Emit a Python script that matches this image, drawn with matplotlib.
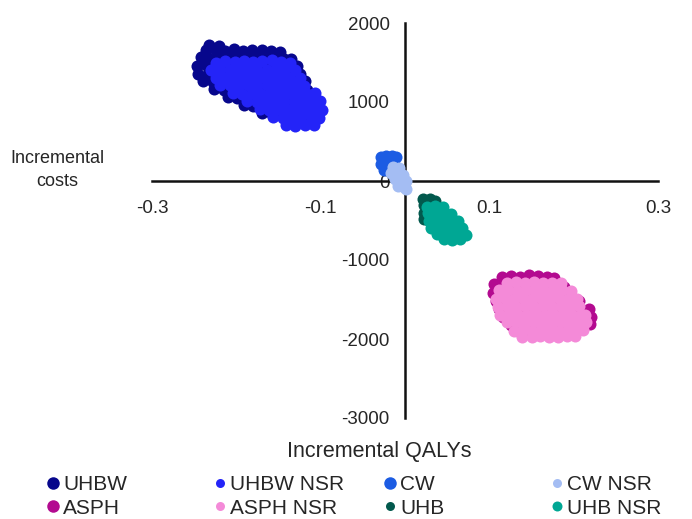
import matplotlib
matplotlib.use('Agg')
import matplotlib.pyplot as plt
from matplotlib.lines import Line2D

plt.rcParams['font.family'] = ['Liberation Sans', 'DejaVu Sans']

# ---------------- data (incremental QALYs, incremental costs) ----------------
uhbw_x = [
    -0.232, -0.220,
    -0.236, -0.225, -0.214, -0.203, -0.192, -0.181, -0.170, -0.159, -0.148,
    -0.242, -0.231, -0.220, -0.209, -0.198, -0.187, -0.176, -0.165, -0.154, -0.143, -0.135,
    -0.247, -0.236, -0.225, -0.214, -0.203, -0.192, -0.181, -0.170, -0.159, -0.148, -0.137, -0.128,
    -0.245, -0.234, -0.223, -0.212, -0.201, -0.190, -0.179, -0.168, -0.157, -0.146, -0.135, -0.124,
    -0.239, -0.228, -0.217, -0.206, -0.195, -0.184, -0.173, -0.162, -0.151, -0.140, -0.129, -0.118,
    -0.226, -0.215, -0.204, -0.193, -0.182, -0.171, -0.160, -0.149, -0.138, -0.127, -0.116,
    -0.210, -0.199, -0.188, -0.177, -0.166, -0.155, -0.144, -0.133, -0.122, -0.112,
    -0.191, -0.180, -0.169, -0.158, -0.147, -0.136, -0.125, -0.114,
    -0.169, -0.158, -0.147, -0.136, -0.125, -0.116,
]
uhbw_y = [
    1720, 1705,
    1660, 1675, 1650, 1665, 1640, 1655, 1660, 1640, 1630,
    1570, 1550, 1565, 1560, 1575, 1550, 1560, 1570, 1555, 1545, 1540,
    1460, 1470, 1450, 1465, 1455, 1460, 1450, 1470, 1455, 1460, 1445, 1450,
    1360, 1350, 1370, 1355, 1365, 1350, 1360, 1370, 1355, 1345, 1360, 1350,
    1265, 1250, 1260, 1270, 1255, 1260, 1250, 1265, 1260, 1250, 1255, 1265,
    1160, 1150, 1170, 1155, 1160, 1165, 1150, 1160, 1155, 1165, 1150,
    1060, 1050, 1065, 1055, 1060, 1070, 1055, 1060, 1050, 1065,
    960, 950, 965, 955, 960, 950, 965, 955,
    860, 850, 865, 855, 860, 850,
]

uhbw_nsr_x = [
    -0.224, -0.213, -0.202, -0.191, -0.180, -0.169, -0.158, -0.147, -0.136,
    -0.230, -0.219, -0.208, -0.197, -0.186, -0.175, -0.164, -0.153, -0.142, -0.131,
    -0.224, -0.213, -0.202, -0.191, -0.180, -0.169, -0.158, -0.147, -0.136, -0.125,
    -0.219, -0.208, -0.197, -0.186, -0.175, -0.164, -0.153, -0.142, -0.131, -0.120,
    -0.204, -0.193, -0.182, -0.171, -0.160, -0.149, -0.138, -0.127, -0.116, -0.107,
    -0.187, -0.176, -0.165, -0.154, -0.143, -0.132, -0.121, -0.110, -0.101,
    -0.172, -0.161, -0.150, -0.139, -0.128, -0.117, -0.106, -0.099,
    -0.156, -0.145, -0.134, -0.123, -0.112, -0.102,
    -0.141, -0.130, -0.119, -0.108,
]
uhbw_nsr_y = [
    1500, 1520, 1510, 1525, 1505, 1515, 1530, 1510, 1495,
    1410, 1420, 1405, 1410, 1415, 1400, 1410, 1420, 1405, 1400,
    1310, 1300, 1315, 1305, 1310, 1320, 1305, 1310, 1300, 1310,
    1210, 1215, 1205, 1210, 1200, 1215, 1210, 1205, 1215, 1205,
    1110, 1100, 1115, 1105, 1110, 1100, 1115, 1110, 1105, 1110,
    1010, 1000, 1015, 1005, 1010, 1000, 1015, 1005, 1010,
    910, 900, 915, 905, 910, 900, 915, 905,
    810, 800, 815, 805, 810, 800,
    710, 700, 715, 705,
]

cw_x = [-0.0285, -0.0220, -0.0160, -0.0107, -0.0285, -0.0200, -0.0130, -0.0250,
        -0.0170, -0.0090, -0.0119, -0.0047]
cw_y = [300, 318, 312, 300, 220, 235, 215, 140, 150, 125, 50, 25]

cw_nsr_x = [-0.0142, -0.0071, -0.0166, -0.0095, -0.0024, -0.0119, -0.0047, 0.0012,
            -0.0083, -0.0012, 0.0008]
cw_nsr_y = [171, 168, 95, 95, 70, 19, 6, -6, -57, -82, -100]

asph_x = [
    0.115, 0.126, 0.136, 0.147, 0.158, 0.168, 0.177,
    0.106, 0.116, 0.127, 0.138, 0.148, 0.159, 0.170, 0.180, 0.189,
    0.104, 0.115, 0.126, 0.136, 0.147, 0.158, 0.168, 0.179, 0.190, 0.196,
    0.108, 0.119, 0.129, 0.140, 0.151, 0.161, 0.172, 0.183, 0.193, 0.204, 0.206,
    0.112, 0.122, 0.133, 0.144, 0.154, 0.165, 0.176, 0.186, 0.197, 0.208, 0.218,
    0.116, 0.127, 0.138, 0.148, 0.159, 0.170, 0.180, 0.191, 0.202, 0.212, 0.221,
    0.126, 0.137, 0.147, 0.158, 0.169, 0.179, 0.190, 0.201, 0.211, 0.219,
    0.138, 0.149, 0.159, 0.170, 0.181, 0.191, 0.202,
]
asph_y = [
    -1215, -1200, -1210, -1195, -1205, -1220, -1230,
    -1310, -1300, -1315, -1305, -1310, -1300, -1320, -1330, -1340,
    -1412, -1405, -1415, -1410, -1400, -1412, -1420, -1410, -1415, -1430,
    -1513, -1505, -1520, -1510, -1515, -1505, -1520, -1510, -1515, -1505, -1520,
    -1614, -1605, -1620, -1610, -1615, -1605, -1620, -1610, -1615, -1605, -1620,
    -1716, -1705, -1720, -1710, -1715, -1705, -1720, -1710, -1715, -1705, -1720,
    -1817, -1805, -1820, -1810, -1815, -1805, -1820, -1810, -1815, -1810,
    -1918, -1905, -1920, -1910, -1915, -1905, -1915,
]

asph_nsr_x = [
    0.121, 0.132, 0.142, 0.153, 0.164, 0.174, 0.185,
    0.112, 0.122, 0.133, 0.144, 0.154, 0.165, 0.176, 0.186, 0.197,
    0.108, 0.119, 0.129, 0.140, 0.151, 0.161, 0.172, 0.183, 0.193, 0.204,
    0.110, 0.121, 0.132, 0.142, 0.153, 0.164, 0.174, 0.185, 0.196, 0.206,
    0.113, 0.123, 0.134, 0.145, 0.155, 0.166, 0.177, 0.187, 0.198, 0.209, 0.214,
    0.121, 0.132, 0.142, 0.153, 0.164, 0.174, 0.185, 0.196, 0.206, 0.215,
    0.129, 0.140, 0.151, 0.161, 0.172, 0.183, 0.193, 0.204, 0.211,
    0.139, 0.150, 0.160, 0.171, 0.182, 0.192, 0.202,
]
asph_nsr_y = [
    -1290, -1280, -1285, -1275, -1290, -1285, -1295,
    -1386, -1380, -1390, -1385, -1380, -1390, -1385, -1380, -1395,
    -1488, -1480, -1490, -1485, -1490, -1480, -1488, -1485, -1490, -1495,
    -1589, -1580, -1590, -1585, -1590, -1580, -1589, -1585, -1590, -1585,
    -1690, -1685, -1695, -1690, -1685, -1695, -1690, -1685, -1695, -1690, -1700,
    -1791, -1785, -1795, -1790, -1785, -1795, -1790, -1785, -1795, -1780,
    -1893, -1885, -1895, -1890, -1885, -1895, -1890, -1885, -1880,
    -1969, -1975, -1965, -1970, -1975, -1965, -1960,
]

uhb_x = [0.0214, 0.0297, 0.0350, 0.0225, 0.0308, 0.0225, 0.0225, 0.0390, 0.0486, 0.0330]
uhb_y = [-222, -234, -250, -310, -323, -399, -475, -335, -513, -440]

uhb_nsr_x = [
    0.026, 0.036, 0.045,
    0.027, 0.037, 0.046, 0.055,
    0.028, 0.038, 0.047, 0.057, 0.063,
    0.031, 0.040, 0.050, 0.059, 0.068,
    0.038, 0.047, 0.057, 0.066, 0.072,
    0.046, 0.056, 0.065,
]
uhb_nsr_y = [
    -323, -318, -330,
    -411, -405, -415, -420,
    -500, -495, -505, -500, -510,
    -589, -585, -595, -590, -600,
    -677, -672, -680, -675, -685,
    -740, -745, -735,
]

series_names = ['UHBW', 'UHBW NSR', 'CW', 'CW NSR', 'ASPH', 'ASPH NSR', 'UHB', 'UHB NSR']
series_x = [uhbw_x, uhbw_nsr_x, cw_x, cw_nsr_x, asph_x, asph_nsr_x, uhb_x, uhb_nsr_x]
series_y = [uhbw_y, uhbw_nsr_y, cw_y, cw_nsr_y, asph_y, asph_nsr_y, uhb_y, uhb_nsr_y]
series_colors = ['#07078C', '#2424F8', '#1C5CE3', '#A4BDF3', '#B30A90', '#F48AD8', '#02594D', '#00A794']
legend_marker_px = [12.5, 9, 12.5, 9, 12.5, 9, 9, 10]

x_ticks = [-0.3, -0.1, 0.1, 0.3]
x_tick_labels = ['-0.3', '-0.1', '0.1', '0.3']
y_ticks = [-3000, -2000, -1000, 0, 1000, 2000]
y_tick_labels = ['-3000', '-2000', '-1000', '0', '1000', '2000']

# ---------------- figure ----------------
W, H = 692, 519
fig = plt.figure(figsize=(W / 100, H / 100), dpi=100)
ax = fig.add_axes([152 / W, 1 - 418 / H, 506 / W, 395 / H])

for xs, ys, col in zip(series_x, series_y, series_colors):
    ax.scatter(xs, ys, s=75, c=col, linewidths=0, zorder=3)

ax.set_xlim(-0.3, 0.3)
ax.set_ylim(-3000, 2000)
for side in ('top', 'right'):
    ax.spines[side].set_visible(False)
ax.spines['left'].set_position(('data', 0))
ax.spines['bottom'].set_position(('data', 0))
for side in ('left', 'bottom'):
    ax.spines[side].set_linewidth(1.8)
    ax.spines[side].set_color('#111111')
    ax.spines[side].set_zorder(2)

text_col = '#262626'
ax.set_xticks(x_ticks)
ax.set_xticklabels(x_tick_labels)
ax.set_yticks(y_ticks)
ax.set_yticklabels(y_tick_labels)
ax.tick_params(axis='both', length=0, labelsize=13.5, labelcolor=text_col)
ax.tick_params(axis='x', pad=14)
ax.tick_params(axis='y', pad=11)
ax.set_facecolor('none')

fig.text(57 / W, 1 - 170 / H, 'Incremental\ncosts', ha='center', va='center',
         fontsize=13, color=text_col, linespacing=1.45)
fig.text(379 / W, 1 - 452 / H, 'Incremental QALYs', ha='center', va='center',
         fontsize=15.5, color=text_col)

# legend: 4 columns, 2 rows
col_x_px = [53, 220, 390, 557]
fs = 15
hl = 0.9
for ci in range(4):
    idx = [ci, ci + 4]
    handles = [Line2D([], [], linestyle='none', marker='o',
                      markersize=legend_marker_px[i] * 0.72,
                      markerfacecolor=series_colors[i], markeredgewidth=0)
               for i in idx]
    labels = [series_names[i] for i in idx]
    anchor_x = (col_x_px[ci] - hl * fs / 0.72 / 2) / W
    fig.legend(handles, labels, loc='center left',
               bbox_to_anchor=(anchor_x, 1 - 496.5 / H),
               frameon=False, fontsize=fs, handlelength=hl,
               handletextpad=0.05, borderpad=0, borderaxespad=0,
               labelspacing=0.2, labelcolor=text_col)

fig.savefig('out.png', dpi=100)
